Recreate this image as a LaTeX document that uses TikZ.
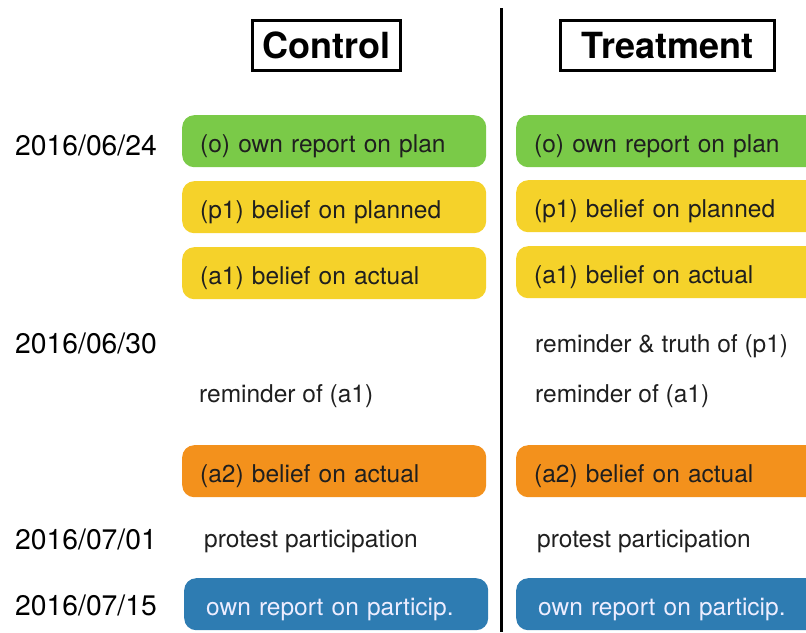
\documentclass[tikz,border=0pt]{standalone}
\usepackage{fontspec}
\setmainfont{TeX Gyre Heros}
\definecolor{plangreen}{RGB}{122,202,72}
\definecolor{beliefyellow}{RGB}{245,210,42}
\definecolor{actualorange}{RGB}{243,145,28}
\definecolor{reportblue}{RGB}{46,124,178}
\tikzset{
  step box/.style={rectangle,rounded corners=12pt,anchor=north west,minimum width=304pt,minimum height=52pt,
    text width=268pt,inner xsep=18pt,align=left,text height=22pt,text depth=0pt,
    font=\fontsize{24.5}{26}\selectfont,text=black!88},
  report box/.style={step box,fill=reportblue,text=white!93!blue,inner xsep=22pt,text width=260pt},
  plain/.style={anchor=base west,inner sep=0pt,font=\fontsize{24.5}{26}\selectfont,text=black!88},
  datelabel/.style={anchor=base west,inner sep=0pt,font=\fontsize{28.3}{30}\selectfont},
  header/.style={draw,line width=3pt,minimum height=50pt,font=\bfseries\fontsize{36}{38}\selectfont}
}
\begin{document}
\begin{tikzpicture}[x=1pt,y=-1pt]
\useasboundingbox (0,0) rectangle (806,632);

% column headers and divider
\node[header,minimum width=148pt] (ctrl) at (326.5,45.5) {Control};
\node[header,minimum width=214pt] (treat) at (667.5,45.5) {Treatment};
\draw[line width=3pt] (501,8) -- (501,632);

% dates
\node[datelabel] (d1) at (15,155) {2016/06/24};
\node[datelabel] (d2) at (15,353) {2016/06/30};
\node[datelabel] (d3) at (15,549) {2016/07/01};
\node[datelabel] (d4) at (15,615) {2016/07/15};

% control group
\node[step box,fill=plangreen] (co) at (182,115) {(o) own report on plan};
\node[step box,fill=beliefyellow] (cp1) at (182,181) {(p1) belief on planned};
\node[step box,fill=beliefyellow] (ca1) at (182,247) {(a1) belief on actual};
\node[plain] (crem) at (199,402) {reminder of (a1)};
\node[step box,fill=actualorange] (ca2) at (182,445) {(a2) belief on actual};
\node[plain] (cpart) at (204,547) {protest participation};
\node[report box] (crep) at (184,578) {own report on particip.};

% treatment group
\node[step box,fill=plangreen] (to) at (516,115) {(o) own report on plan};
\node[step box,fill=beliefyellow] (tp1) at (516,180) {(p1) belief on planned};
\node[step box,fill=beliefyellow] (ta1) at (516,246) {(a1) belief on actual};
\node[plain] (ttruth) at (535,352) {reminder \& truth of (p1)};
\node[plain] (trem) at (535,402) {reminder of (a1)};
\node[step box,fill=actualorange] (ta2) at (516,445) {(a2) belief on actual};
\node[plain] (tpart) at (537,547) {protest participation};
\node[report box] (trep) at (516,578) {own report on particip.};
\end{tikzpicture}
\end{document}
